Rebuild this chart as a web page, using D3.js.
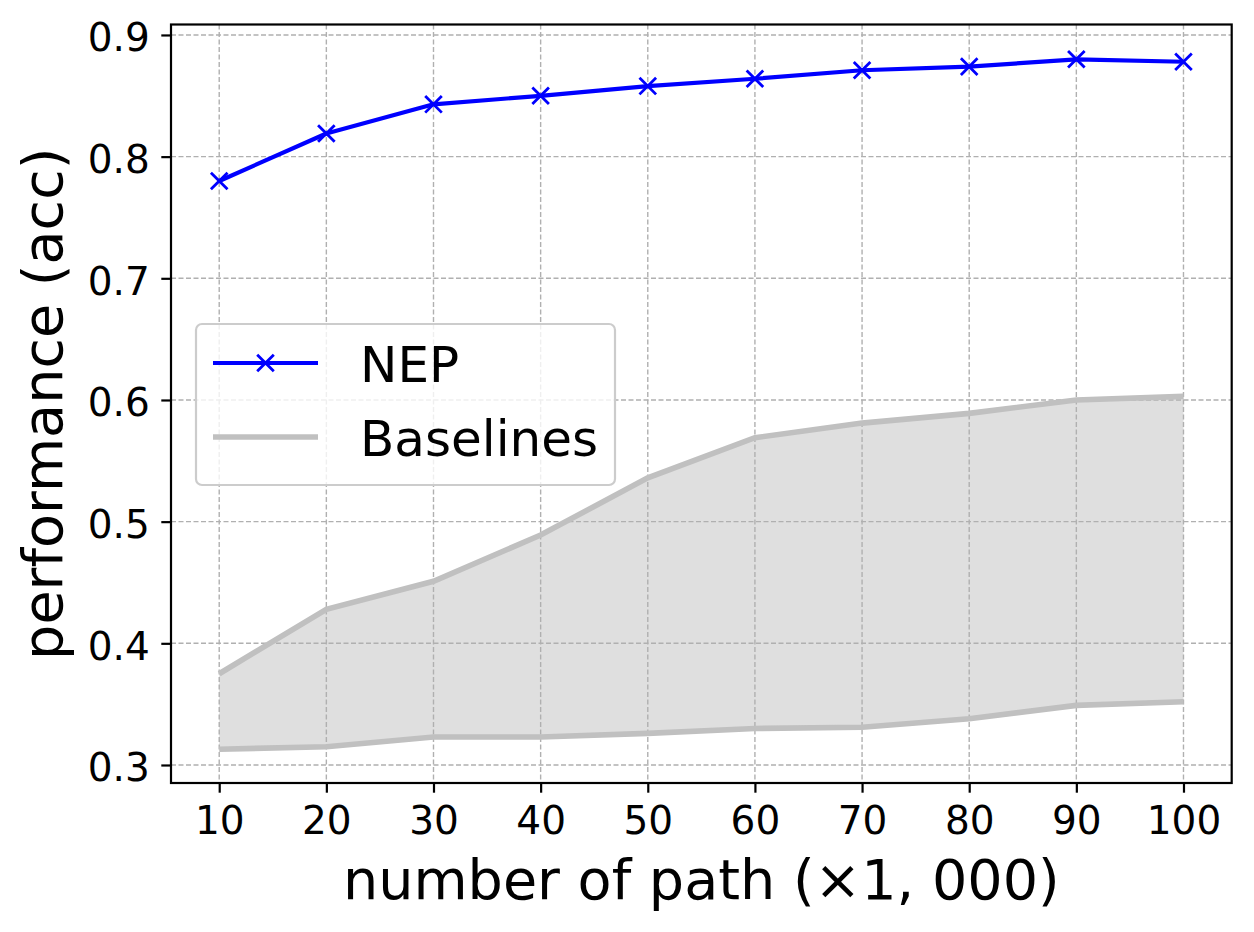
<!DOCTYPE html>
<html>
<head>
<meta charset="utf-8">
<script src="https://cdn.jsdelivr.net/npm/d3@7"></script>
<style>
  body { margin: 0; background: #fff; }
  svg { display: block; font-family: "DejaVu Sans", sans-serif; }
</style>
</head>
<body>
<div id="acc_plot"></div>
<script>
/* NEP vs baselines, accuracy against number of paths */
var pathCounts = [10, 20, 30, 40, 50, 60, 70, 80, 90, 100];
var nepAcc = [0.780, 0.819, 0.843, 0.850, 0.858, 0.864, 0.871, 0.874, 0.880, 0.878];
var baseUpper = [0.375, 0.428, 0.451, 0.489, 0.536, 0.569, 0.581, 0.589, 0.600, 0.603];
var baseLower = [0.313, 0.315, 0.323, 0.323, 0.326, 0.330, 0.331, 0.338, 0.349, 0.352];
var xTicks = [10, 20, 30, 40, 50, 60, 70, 80, 90, 100];
var yTicks = [0.3, 0.4, 0.5, 0.6, 0.7, 0.8, 0.9];
var legendNames = ["NEP", "Baselines"];

var W = 1254, H = 932;
var margin = {top: 24.5, right: 22.3, bottom: 149, left: 171},
w = W - margin.left - margin.right,
h = H - margin.top - margin.bottom;

var svg = d3.select("#acc_plot")
  .append("svg")
  .attr("width", W)
  .attr("height", H)
  .append("g")
  .attr("transform", `translate(${margin.left},${margin.top})`);

var x = d3.scaleLinear().domain([5.5, 104.5]).range([0, w]);
var y = d3.scaleLinear().domain([0.2852, 0.9086]).range([h, 0]);

var pts = pathCounts.map(function(d, i) {
  return {n: d, nep: nepAcc[i], hi: baseUpper[i], lo: baseLower[i]};
});

// baseline band (drawn under the grid, like matplotlib patches)
var band = d3.area()
  .x(function(d) { return x(d.n); })
  .y0(function(d) { return y(d.lo); })
  .y1(function(d) { return y(d.hi); });
svg.append("path")
  .datum(pts)
  .attr("d", band)
  .attr("fill", "#c0c0c0")
  .attr("fill-opacity", 0.5);

// grid
svg.append("g").selectAll("line")
  .data(xTicks).enter().append("line")
  .attr("x1", function(d) { return x(d); }).attr("x2", function(d) { return x(d); })
  .attr("y1", 0).attr("y2", h)
  .attr("stroke", "#b0b0b0").attr("stroke-width", 1.4).attr("stroke-dasharray", "5,2.5");
svg.append("g").selectAll("line")
  .data(yTicks).enter().append("line")
  .attr("y1", function(d) { return y(d); }).attr("y2", function(d) { return y(d); })
  .attr("x1", 0).attr("x2", w)
  .attr("stroke", "#b0b0b0").attr("stroke-width", 1.4).attr("stroke-dasharray", "5,2.5");

// baseline envelope lines
["hi", "lo"].forEach(function(k) {
  svg.append("path")
    .datum(pts)
    .attr("d", d3.line().x(function(d) { return x(d.n); }).y(function(d) { return y(d[k]); }))
    .attr("fill", "none")
    .attr("stroke", "#c0c0c0")
    .attr("stroke-width", 5.6);
});

// NEP line + x markers
svg.append("path")
  .datum(pts)
  .attr("d", d3.line().x(function(d) { return x(d.n); }).y(function(d) { return y(d.nep); }))
  .attr("fill", "none")
  .attr("stroke", "#0000ff")
  .attr("stroke-width", 4.2)
  .attr("stroke-linejoin", "round");

var xMark = "M-8.3,-8.3L8.3,8.3M-8.3,8.3L8.3,-8.3";
svg.append("g").selectAll("path")
  .data(pts).enter().append("path")
  .attr("transform", function(d) { return `translate(${x(d.n)},${y(d.nep)})`; })
  .attr("d", xMark)
  .attr("stroke", "#0000ff")
  .attr("stroke-width", 2.8)
  .attr("fill", "none");

// axes
var xAxis = svg.append("g")
  .attr("transform", "translate(0," + h + ")")
  .call(d3.axisBottom(x).tickValues(xTicks).tickSize(9.7).tickPadding(14));
var yAxis = svg.append("g")
  .call(d3.axisLeft(y).tickValues(yTicks).tickSize(9.7).tickPadding(11.5).tickFormat(d3.format(".1f")));

[xAxis, yAxis].forEach(function(a) {
  a.select(".domain").remove();
  a.selectAll(".tick line").attr("stroke", "#000").attr("stroke-width", 2.2);
  a.selectAll(".tick text")
    .attr("fill", "#000")
    .style("font-size", "39px")
    .style("font-family", "'DejaVu Sans', sans-serif");
});
yAxis.selectAll(".tick text").attr("dy", "0.41em");

// frame
svg.append("rect")
  .attr("x", 0).attr("y", 0).attr("width", w).attr("height", h)
  .attr("fill", "none").attr("stroke", "#000").attr("stroke-width", 2.2);

// axis titles
svg.append("text")
  .attr("x", w / 2)
  .attr("y", 874)
  .attr("text-anchor", "middle")
  .style("font-size", "55.6px")
  .text("number of path (×1, 000)");

svg.append("text")
  .attr("transform", `translate(${62 - margin.left},${h / 2}) rotate(-90)`)
  .attr("text-anchor", "middle")
  .style("font-size", "55.6px")
  .text("performance (acc)");

// legend
var lg = svg.append("g").attr("transform", `translate(${196 - margin.left},${324 - margin.top})`);
lg.append("rect")
  .attr("width", 419).attr("height", 161).attr("rx", 6)
  .attr("fill", "#fff").attr("fill-opacity", 0.8)
  .attr("stroke", "#cccccc").attr("stroke-width", 2.2);

lg.append("line")
  .attr("x1", 17).attr("x2", 122).attr("y1", 39).attr("y2", 39)
  .attr("stroke", "#0000ff").attr("stroke-width", 4.2);
lg.append("path")
  .attr("transform", "translate(69.5,39)")
  .attr("d", xMark)
  .attr("stroke", "#0000ff").attr("stroke-width", 2.8);
lg.append("line")
  .attr("x1", 17).attr("x2", 122).attr("y1", 113).attr("y2", 113)
  .attr("stroke", "#c0c0c0").attr("stroke-width", 5.6);

lg.selectAll("text.lab")
  .data(legendNames).enter().append("text")
  .attr("class", "lab")
  .attr("x", 164)
  .attr("y", function(d, i) { return 57.5 + i * 74; })
  .style("font-size", "50px")
  .text(function(d) { return d; });
</script>
</body>
</html>
